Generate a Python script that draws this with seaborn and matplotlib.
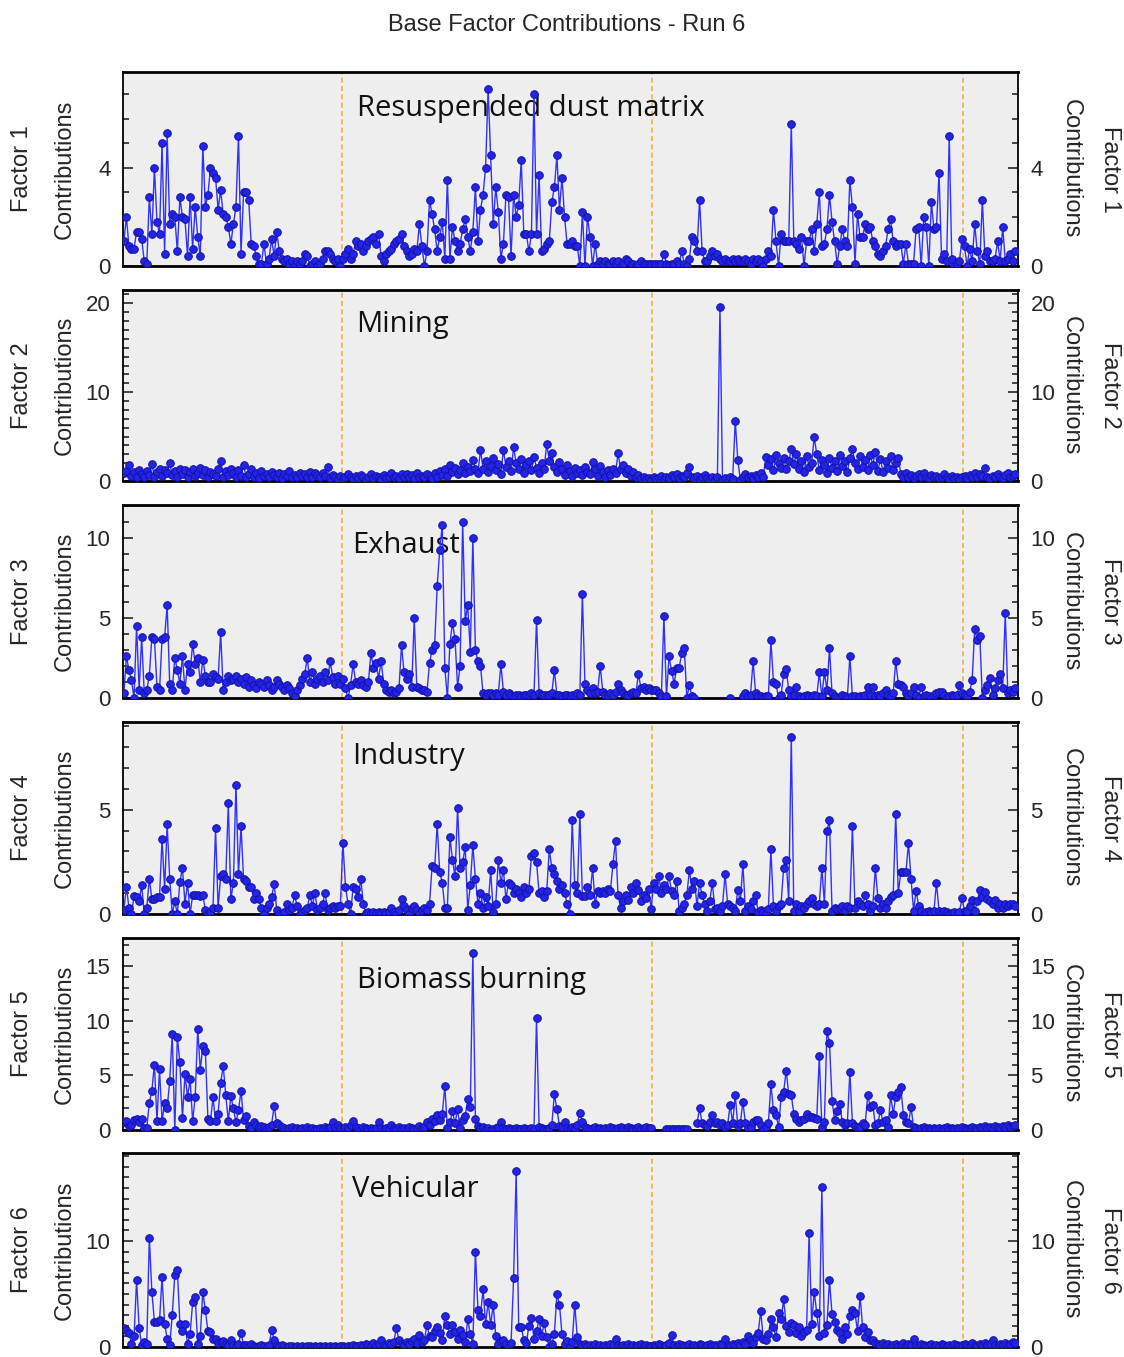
import numpy as np
import pandas as pd
import seaborn as sns
import matplotlib.pyplot as plt
from matplotlib.ticker import FixedLocator, MultipleLocator, NullLocator

nan = np.nan

# factor contributions, one sample every third day from first_day
first_day = "2014-04-19"

factor1 = [
    1.0, 2.0, 0.8, 0.7, 0.7, 1.4, 1.4, 1.1, 0.2, 0.1,
    2.8, 1.3, 4.0, 1.8, 1.3, 5.0, 0.5, 5.4, 1.7, 2.1,
    2.0, 0.6, 2.8, 2.0, 1.9, 0.4, 2.8, 0.7, 2.4, 1.2,
    0.4, 4.9, 2.4, 2.9, 4.0, 3.8, 3.6, 2.3, 3.1, 2.1,
    2.0, 1.6, 0.9, 1.7, 2.4, 5.3, 0.5, 3.0, 3.0, 2.7,
    0.9, 0.8, 0.4, 0.1, 0.1, 0.9, 0.1, 0.3, 1.1, 0.4,
    1.4, 0.6, 0.3, 0.2, 0.3, 0.1, 0.2, 0.0, 0.2, 0.1,
    0.2, 0.5, 0.4, 0.0, 0.1, 0.2, 0.0, 0.1, 0.3, 0.6,
    0.6, 0.5, 0.3, 0.2, 0.3, 0.0, 0.3, 0.5, 0.7, 0.3,
    0.5, 1.0, 0.8, 0.9, 0.6, 0.8, 1.0, 1.1, 1.2, 0.9,
    1.3, 0.4, 0.2, 0.5, 0.6, 0.7, 0.9, 1.0, 1.1, 1.3,
    0.8, 0.6, 0.4, 0.5, 0.7, 0.6, 1.7, 0.8, 0.0, 0.6,
    2.7, 2.1, 1.5, 0.6, 1.2, 1.8, 0.3, 3.5, 0.3, 1.6,
    1.0, 0.6, 0.9, 1.5, 1.9, 1.2, 0.6, 1.4, 3.2, 1.0,
    2.3, 2.9, 4.0, 7.2, 4.5, 1.7, 3.2, 2.2, 0.3, 0.9,
    2.9, 2.8, 0.4, 2.9, 2.0, 2.5, 4.3, 1.3, 1.3, 0.6,
    1.3, 7.0, 1.3, 3.7, 0.6, 0.7, 0.9, 1.0, 2.6, 3.2,
    4.5, 2.3, 3.6, 2.0, 0.9, 0.9, 1.0, 0.8, 0.8, 0.0,
    2.2, 0.0, 2.0, 1.2, 0.0, 0.9, 0.1, 0.2, 0.1, 0.2,
    0.1, 0.1, 0.2, 0.1, 0.2, 0.0, 0.1, 0.3, 0.2, 0.1,
    0.1, 0.0, 0.1, 0.2, 0.1, 0.1, 0.1, 0.1, 0.1, 0.1,
    0.1, 0.1, 0.5, 0.1, 0.05, 0.1, 0.1, 0.2, 0.1, 0.6,
    0.1, 0.0, 0.3, 1.2, 1.0, 0.6, 2.7, 0.6, 0.2, 0.2,
    0.4, 0.6, 0.4, 0.5, 0.3, 0.2, 0.3, 0.2, 0.2, 0.3,
    0.2, 0.3, 0.2, 0.2, 0.3, 0.2, 0.1, 0.3, 0.2, 0.3,
    0.2, 0.0, 0.3, 0.6, 0.4, 2.3, 1.0, 0.0, 1.3, 1.0,
    1.0, 1.0, 5.8, 1.0, 0.9, 0.7, 1.2, 0.0, 1.0, 1.0,
    1.5, 0.6, 1.7, 3.0, 0.8, 0.9, 1.5, 2.9, 1.8, 1.0,
    0.1, 0.8, 1.5, 1.0, 0.8, 3.5, 2.4, 0.1, 2.1, 1.2,
    1.2, 1.7, 1.5, 1.6, 1.0, 0.8, 0.5, 0.4, 0.6, 0.8,
    1.5, 1.9, 1.0, 0.8, 0.9, 0.9, 0.1, 0.9, 0.1, 0.1,
    0.1, 1.5, 1.6, 0.0, 2.0, 1.6, 0.0, 2.6, 1.5, 1.6,
    3.8, 0.3, 0.5, 0.2, 5.3, 0.3, 0.0, 0.1, 0.2, 1.1,
    0.8, 0.0, 0.7, 0.2, 1.7, 0.6, 0.1, 2.7, 0.4, 0.6,
    0.2, 0.2, 0.3, 1.0, 0.2, 1.6, 0.2, 0.3, 0.5, 0.2, 0.6,
]

factor2 = [
    0.9, 1.1, 1.8, 0.6, 1.0, 0.5, 1.2, 0.8, 0.4, 1.1,
    0.7, 1.9, 0.5, 1.0, 1.3, 0.6, 1.2, 0.9, 2.0, 0.7,
    1.1, 0.5, 1.4, 0.8, 1.2, 0.4, 1.0, 1.3, 0.6, 0.9,
    1.5, 0.7, 1.2, 0.5, 1.0, 0.8, 0.6, 1.3, 2.3, 0.4,
    1.1, 0.7, 1.4, 0.9, 0.5, 1.2, 0.6, 1.8, 0.4, 0.8,
    1.3, 0.5, 0.9, 0.3, 1.1, 0.6, 0.8, 0.4, 1.0, 0.7,
    0.5, 0.9, 0.3, 0.8, 0.6, 1.1, 0.4, 0.7, 0.5, 0.9,
    0.6, 0.8, 0.4, 1.0, 0.5, 0.9, 0.7, 0.4, 0.9, 0.6,
    1.6, 0.3, 0.7, 0.4, 0.2, 0.6, 0.3, 0.5, 0.8, 0.4,
    0.2, 0.6, 0.3, 0.7, 0.4, 0.2, 0.5, 0.8, 0.3, 0.6,
    0.4, 0.2, 0.7, 0.3, 0.5, 0.9, 0.4, 0.6, 0.3, 0.8,
    0.5, 0.8, 0.4, 0.7, 0.3, 0.9, 0.5, 0.6, 0.4, 0.8,
    0.6, 0.3, 0.9, 0.5, 1.1, 0.7, 1.3, 0.6, 1.8, 1.0,
    1.5, 0.8, 1.2, 2.0, 0.9, 1.6, 1.1, 2.4, 1.3, 0.9,
    3.5, 1.4, 2.2, 1.0, 1.7, 2.6, 1.2, 1.9, 0.8, 3.5,
    1.6, 2.3, 1.1, 3.8, 2.0, 1.3, 2.5, 0.9, 1.8, 2.2,
    1.2, 2.7, 1.5, 0.9, 2.0, 1.4, 4.2, 2.3, 3.1, 1.6,
    1.0, 2.1, 1.3, 0.7, 1.8, 1.1, 0.6, 1.5, 0.9, 1.2,
    0.7, 1.6, 1.0, 0.8, 2.1, 1.3, 0.6, 1.7, 1.0, 0.5,
    1.2, 0.7, 1.4, 0.9, 3.1, 1.3, 1.8, 0.9, 1.4, 0.6,
    1.0, 0.4, 0.7, 0.3, 0.5, 0.2, 0.3, 0.1, 0.4, 0.2,
    0.3, 0.6, 0.2, 0.5, 0.3, 0.7, 0.4, 0.8, 0.3, 0.6,
    0.4, 0.9, 1.6, 0.5, 0.3, 0.6, 0.2, 0.4, 0.7, 0.3,
    0.2, 0.5, 0.1, 0.4, 19.6, 0.1, 0.3, 0.1, 0.4, 0.2,
    6.8, 2.4, 0.1, 0.5, 0.8, 0.4, 0.6, 0.3, 0.7, 0.5,
    0.9, 0.4, 2.7, 1.8, 2.5, 1.2, 2.9, 2.0, 1.5, 2.6,
    1.3, 2.2, 3.6, 1.9, 3.0, 1.4, 2.3, 1.0, 2.8, 1.6,
    2.0, 5.0, 3.0, 1.2, 2.4, 1.8, 0.9, 2.6, 1.5, 2.2,
    1.1, 2.9, 1.7, 2.3, 1.0, 2.6, 3.6, 2.0, 1.4, 2.8,
    1.6, 2.4, 1.2, 2.9, 1.8, 3.3, 1.1, 2.5, 1.0, 2.2,
    1.5, 2.8, 1.2, 2.0, 2.6, 0.8, 0.5, 0.9, 0.4, 0.7,
    0.3, 0.6, 0.8, 0.4, 0.9, 0.5, 0.3, 0.7, 0.4, 0.6,
    0.3, 0.5, 0.8, 0.4, 0.2, 0.6, 0.3, 0.5, 0.2, 0.4,
    0.6, 0.3, 0.7, 0.4, 0.9, 0.5, 0.8, 0.6, 1.5, 0.4,
    0.3, 0.6, 0.4, 0.8, 0.5, 0.3, 0.7, 0.9, 0.4, 0.6, 0.8,
]

factor3 = [
    0.3, 2.6, 1.75, 1.1, 0.0, 4.5, 0.5, 3.8, 0.3, 0.5,
    1.4, 3.8, 3.7, 0.7, 0.5, 3.7, 3.8, 5.8, 0.9, 0.5,
    2.5, 1.75, 0.9, 2.6, 0.5, 2.1, 1.6, 3.4, 2.1, 2.5,
    1.0, 2.4, 1.4, 1.0, 1.0, 1.5, 1.3, 1.2, 4.1, 0.5,
    1.0, 1.4, 1.1, 1.2, 1.4, 1.0, 1.2, 0.9, 1.3, 0.7,
    1.1, 0.8, 0.6, 1.0, 0.9, 0.7, 1.1, 0.8, 0.5, 0.7,
    1.1, 0.9, 0.7, 0.5, 0.8, 0.6, 0.3, 0.1, 0.5, 0.8,
    1.2, 1.5, 2.5, 1.0, 1.6, 0.9, 1.2, 1.4, 1.0, 1.6,
    1.1, 2.3, 1.3, 0.9, 1.4, 0.9, 1.2, 0.6, 0.0, 0.8,
    2.1, 1.0, 0.9, 1.1, 0.8, 0.7, 1.0, 2.8, 1.9, 2.2,
    1.2, 2.3, 0.9, 0.5, 0.4, 0.5, 0.3, 0.4, 0.6, 3.3,
    1.6, 1.2, 1.5, 0.7, 5.0, 0.7, 0.6, 0.5, 0.5, 0.4,
    2.2, 3.0, 3.3, 7.0, 9.25, 10.8, 1.9, 0.0, 3.4, 4.7,
    3.7, 0.7, 2.0, 11.0, 4.8, 5.8, 2.9, 10.0, 3.0, 2.3,
    2.0, 0.3, 0.2, 0.3, 0.3, 0.2, 0.3, 0.2, 2.1, 0.4,
    0.2, 0.3, 0.2, 0.1, 0.2, 0.2, 0.1, 0.2, 0.2, 0.2,
    0.3, 0.2, 4.9, 0.3, 0.2, 0.2, 0.2, 0.2, 0.3, 1.75,
    0.2, 0.2, 0.1, 0.2, 0.2, 0.1, 0.2, 0.2, 0.3, 0.2,
    6.5, 0.9, 0.5, 0.3, 0.6, 0.3, 0.4, 2.0, 0.4, 0.2,
    0.2, 0.3, 0.2, 0.4, 0.9, 0.5, 0.3, 0.2, 0.2, 0.3,
    0.4, 0.3, 1.5, 0.6, 0.7, 0.5, 0.6, 0.5, 0.5, 0.5,
    0.3, 0.1, 5.1, 0.1, 2.6, 1.7, 0.9, 1.9, 1.9, 2.8,
    3.1, 0.0, 0.8, 0.1, 0.0, nan, nan, nan, nan, nan,
    nan, nan, nan, nan, nan, nan, nan, nan, 0.0, nan,
    nan, nan, nan, 0.1, 0.3, 0.1, 0.2, 2.3, 0.3, 0.1,
    0.1, 0.0, 0.1, 0.1, 3.6, 1.0, 0.9, 0.0, 0.2, 1.5,
    1.8, 0.5, 0.1, 0.2, 0.7, 0.1, 0.0, 0.1, 0.2, 0.1,
    0.1, 0.2, 0.1, 1.6, 0.1, 1.6, 0.5, 3.1, 0.3, 0.1,
    0.0, 0.0, 0.2, 0.1, 0.0, 2.6, 0.1, 0.1, 0.0, 0.1,
    0.1, 0.2, 0.7, 0.2, 0.7, 0.1, 0.2, 0.1, 0.3, 0.5,
    0.2, 0.1, 0.3, 2.3, 0.9, 0.8, 0.7, 0.3, 0.1, 0.3,
    0.7, 0.2, 0.0, 0.7, 0.1, 0.2, 0.1, 0.0, 0.2, 0.3,
    0.4, 0.4, 0.2, 0.0, 0.1, 0.2, 0.1, 0.2, 0.8, 0.3,
    0.2, 0.1, 0.4, 1.1, 4.3, 3.6, 3.9, 0.0, 0.5, 0.8,
    1.25, 0.2, 0.6, 1.1, 1.5, 0.6, 5.3, 0.3, 0.5, 0.4, 0.6,
]

factor4 = [
    0.2, 1.3, 0.3, 0.0, 0.85, 0.8, 0.6, 1.4, 0.0, 0.3,
    1.7, 0.7, 0.7, 0.8, 0.8, 3.6, 1.2, 4.3, 1.7, 0.0,
    0.6, 0.0, 1.55, 2.2, 0.5, 1.5, 0.0, 0.9, 0.9, 0.9,
    0.85, 0.9, 0.2, 0.0, 0.1, 0.3, 4.1, 0.3, 1.8, 1.9,
    1.7, 5.3, 0.7, 1.5, 6.2, 1.9, 4.2, 1.7, 1.6, 1.3,
    1.3, 0.7, 1.0, 0.7, 0.3, 0.0, 0.3, 0.5, 0.8, 1.45,
    0.2, 0.0, 0.0, 0.1, 0.5, 0.2, 0.3, 0.9, 0.4, 0.0,
    0.1, 0.2, 0.3, 0.9, 0.4, 1.0, 0.2, 0.3, 0.5, 1.0,
    0.2, 0.3, 0.4, 0.3, 0.4, 0.4, 3.4, 1.3, 0.5, 0.0,
    1.3, 1.2, 0.8, 1.7, 0.5, 0.05, 0.1, 0.05, 0.1, 0.05,
    0.1, 0.05, 0.1, 0.05, 0.1, 0.3, 0.1, 0.0, 0.2, 0.7,
    0.4, 0.2, 0.0, 0.3, 0.4, 0.2, 0.0, 0.2, 0.3, 0.2,
    0.5, 2.3, 2.2, 4.3, 2.0, 1.5, 0.3, 0.3, 3.7, 2.6,
    1.8, 5.1, 2.2, 2.5, 3.2, 0.2, 1.4, 3.3, 1.7, 0.5,
    1.0, 0.3, 0.8, 0.4, 2.1, 0.1, 0.5, 2.6, 1.5, 2.1,
    0.7, 1.5, 1.4, 1.0, 1.2, 1.0, 0.8, 1.3, 1.0, 1.2,
    2.8, 2.9, 2.5, 1.0, 1.1, 0.8, 1.1, 3.1, 2.2, 1.9,
    1.6, 1.2, 1.4, 1.0, 0.5, 0.0, 4.5, 1.4, 1.0, 4.8,
    0.85, 0.85, 1.3, 0.9, 2.2, 0.5, 1.1, 1.0, 1.1, 1.0,
    1.2, 1.1, 2.4, 3.5, 0.9, 0.3, 0.6, 0.9, 0.65, 1.3,
    1.0, 1.5, 1.15, 0.6, 0.9, 0.75, 1.2, 0.25, 1.5, 1.2,
    1.8, 1.0, 1.4, 1.2, 1.8, 1.1, 0.9, 1.6, 0.15, 0.3,
    0.5, 0.9, 2.1, 1.2, 1.6, 0.4, 1.5, 0.9, 0.5, 0.15,
    0.6, 1.5, 0.25, 0.3, 0.15, 0.4, 1.9, 0.5, 0.4, 0.3,
    0.15, 1.15, 0.6, 2.4, 0.15, 0.4, 0.25, 0.6, 0.9, 0.1,
    0.2, 0.1, 0.0, 0.25, 3.1, 0.4, 0.15, 0.4, 0.5, 2.2,
    2.6, 0.6, 8.5, 0.15, 0.5, 0.15, 0.4, 0.3, 0.5, 0.6,
    0.75, 0.5, 0.4, 0.5, 2.2, 0.5, 4.0, 4.5, 0.15, 0.3,
    0.25, 0.3, 0.4, 0.2, 0.4, 0.3, 4.2, 0.3, 0.6, 0.5,
    0.4, 0.9, 0.5, 0.15, 0.4, 2.2, 0.75, 0.3, 0.5, 0.3,
    0.6, 0.8, 0.9, 4.8, 1.0, 2.0, 2.0, 2.0, 3.4, 1.7,
    0.15, 1.1, 0.4, 0.15, 0.0, 0.1, 0.15, 0.1, 0.15, 1.5,
    0.15, 0.1, 0.15, 0.1, 0.0, 0.05, 0.1, 0.0, 0.1, 0.75,
    0.15, 0.15, 0.4, 0.65, 0.15, 0.6, 1.15, 0.8, 1.05, 0.7,
    0.6, 0.5, 0.65, 0.3, 0.5, 0.3, 0.5, 0.4, 0.5, 0.5, 0.4,
]

factor5 = [
    0.7, 0.8, 0.4, 0.5, 0.9, 1.0, 0.7, 1.0, 0.2, 0.2,
    2.5, 3.6, 6.0, 0.8, 5.6, 0.8, 2.5, 2.0, 4.5, 8.8,
    0.0, 8.5, 6.2, 1.1, 5.1, 3.0, 4.7, 0.8, 3.0, 9.3,
    5.5, 7.7, 7.2, 1.0, 0.8, 3.0, 0.8, 1.5, 4.3, 5.9,
    3.2, 0.8, 3.1, 2.0, 0.7, 1.8, 3.6, 0.9, 1.3, 0.4,
    0.2, 0.7, 0.5, 0.3, 0.4, 0.3, 0.2, 0.3, 0.5, 2.2,
    0.6, 0.5, 0.3, 0.2, 0.1, 0.2, 0.3, 0.1, 0.2, 0.1,
    0.2, 0.1, 0.3, 0.1, 0.2, 0.1, 0.1, 0.2, 0.1, 0.3,
    0.2, 0.3, 0.7, 0.3, 0.5, 0.2, 0.1, 0.3, 0.2, 0.5,
    0.8, 0.3, 0.2, 0.1, 0.3, 0.2, 0.1, 0.2, 0.1, 0.2,
    0.7, 0.2, 0.1, 0.2, 0.1, 0.5, 0.2, 0.1, 0.3, 0.1,
    0.2, 0.1, 0.3, 0.2, 0.1, 0.2, 0.4, 0.2, 0.3, 0.7,
    0.5, 1.0, 0.8, 1.4, 0.9, 1.5, 4.0, 0.2, 0.7, 1.7,
    0.6, 1.9, 0.2, 0.9, 1.3, 2.8, 2.1, 16.2, 1.0, 0.4,
    0.2, 0.3, 0.1, 0.2, 0.0, 0.1, 0.2, 0.3, 0.7, 0.2,
    0.1, 0.2, 0.1, 0.1, 0.2, 0.1, 0.1, 0.2, 0.1, 0.1,
    0.2, 0.1, 10.3, 0.3, 0.2, 0.1, 0.1, 0.2, 0.5, 3.3,
    1.9, 0.4, 0.3, 0.7, 0.2, 0.1, 0.3, 0.2, 0.5, 1.6,
    0.7, 0.3, 0.2, 0.1, 0.2, 0.3, 0.1, 0.2, 0.1, 0.2,
    0.1, 0.3, 0.2, 0.1, 0.2, 0.3, 0.2, 0.1, 0.3, 0.2,
    0.1, 0.2, 0.3, 0.1, 0.2, 0.3, 0.2, 0.2, nan, nan,
    nan, nan, nan, 0.05, 0.1, 0.05, 0.1, 0.05, 0.1, 0.05,
    0.1, 0.05, nan, nan, nan, 0.6, 2.0, 0.6, 0.5, 0.4,
    0.75, 1.35, 0.6, 0.75, 0.5, 0.6, 0.3, 0.45, 2.3, 0.6,
    3.2, 0.4, 0.6, 2.6, 0.6, 0.15, 0.3, 0.75, 0.9, 0.9,
    0.5, 0.0, 0.3, 0.6, 4.2, 1.8, 1.35, 0.3, 3.0, 3.5,
    5.45, 3.3, 3.2, 1.5, 1.05, 0.75, 0.9, 1.05, 1.5, 1.2,
    1.2, 1.1, 1.05, 6.8, 0.3, 0.75, 9.1, 8.0, 2.7, 0.9,
    1.7, 2.4, 0.75, 0.5, 0.6, 5.3, 0.6, 0.4, 0.3, 0.3,
    0.6, 0.5, 3.2, 2.1, 2.3, 0.45, 0.6, 1.8, 0.75, 0.9,
    0.3, 3.2, 1.5, 3.0, 3.5, 3.9, 1.4, 0.75, 0.6, 2.1,
    0.3, 0.2, 0.1, 0.2, 0.3, 0.1, 0.2, 0.1, 0.2, 0.1,
    0.2, 0.1, 0.2, 0.3, 0.1, 0.2, 0.1, 0.2, 0.1, 0.3,
    0.2, 0.1, 0.2, 0.3, 0.2, 0.1, 0.3, 0.2, 0.4, 0.2,
    0.3, 0.2, 0.4, 0.3, 0.2, 0.4, 0.3, 0.5, 0.3, 0.4, 0.5,
]

factor6 = [
    1.8, 1.6, 1.3, 0.3, 1.0, 6.3, 1.8, 0.2, 0.5, 0.3,
    10.3, 5.2, 2.4, 2.4, 2.5, 6.6, 2.2, 0.8, 0.2, 3.0,
    6.8, 7.3, 2.2, 1.5, 2.2, 0.3, 1.2, 4.2, 4.7, 0.3,
    1.0, 5.2, 3.5, 1.5, 1.4, 0.8, 0.8, 0.4, 0.5, 0.6,
    0.3, 0.2, 0.65, 0.2, 0.0, 0.3, 1.3, 0.2, 0.2, 0.1,
    0.3, 0.1, 0.0, 0.1, 0.2, 0.1, 0.0, 0.2, 1.6, 0.65,
    0.2, 0.1, 0.2, 0.1, 0.0, 0.1, 0.1, 0.0, 0.1, 0.0,
    0.1, 0.0, 0.1, 0.1, 0.0, 0.1, 0.0, 0.1, 0.0, 0.1,
    0.0, 0.1, 0.0, 0.1, 0.0, 0.1, 0.1, 0.0, 0.1, 0.1,
    0.2, 0.1, 0.1, 0.2, 0.1, 0.3, 0.2, 0.1, 0.4, 0.2,
    0.3, 0.65, 0.2, 0.1, 0.4, 0.3, 0.5, 1.8, 0.65, 0.3,
    0.2, 0.5, 0.3, 0.6, 0.8, 0.4, 1.1, 0.5, 0.7, 2.1,
    1.0, 0.9, 1.5, 1.9, 1.3, 0.7, 2.9, 2.1, 1.2, 2.1,
    1.45, 0.8, 1.6, 1.1, 0.5, 2.6, 1.2, 0.3, 9.0, 3.5,
    2.9, 5.5, 2.2, 4.2, 2.1, 4.0, 1.0, 0.3, 0.6, 0.65,
    0.3, 0.0, 0.4, 6.5, 16.6, 1.9, 1.9, 0.65, 0.4, 2.0,
    2.7, 0.8, 1.5, 2.6, 1.0, 2.3, 0.9, 0.0, 0.3, 1.2,
    5.0, 4.0, 1.2, 0.3, 0.6, 0.0, 0.5, 4.0, 0.9, 0.3,
    0.2, 0.3, 0.1, 0.2, 0.1, 0.3, 0.1, 0.2, 0.1, 0.2,
    0.1, 0.3, 0.2, 0.8, 0.2, 0.1, 0.2, 0.1, 0.3, 0.1,
    0.2, 0.1, 0.2, 0.3, 0.1, 0.2, 0.1, 0.1, 0.2, 0.1,
    0.3, 0.2, 0.1, 0.2, 0.4, 1.1, 0.2, 0.1, 0.3, 0.2,
    0.1, 0.2, 0.3, 0.1, 0.2, 0.1, 0.3, 0.2, 0.1, 0.2,
    0.3, 0.1, 0.2, 0.1, 0.3, 0.2, 0.8, 0.2, 0.1, 0.3,
    0.2, 0.4, 0.2, 0.5, 0.3, 1.0, 0.65, 0.4, 0.9, 1.3,
    3.4, 0.8, 0.65, 1.2, 2.6, 1.9, 0.9, 3.2, 2.6, 4.5,
    2.0, 1.45, 2.3, 2.1, 1.3, 1.9, 1.0, 1.45, 1.6, 10.8,
    2.2, 5.2, 3.2, 1.0, 15.1, 1.3, 2.1, 6.3, 3.1, 2.4,
    1.6, 1.3, 0.8, 1.9, 1.2, 2.9, 3.5, 3.2, 1.5, 4.8,
    1.9, 0.9, 1.45, 0.7, 0.65, 0.4, 0.3, 0.2, 0.4, 0.2,
    0.3, 0.1, 0.2, 0.3, 0.1, 0.2, 0.4, 0.1, 0.3, 0.2,
    0.8, 0.2, 0.1, 0.3, 0.2, 0.1, 0.2, 0.3, 0.1, 0.2,
    0.1, 0.3, 0.2, 0.1, 0.2, 0.1, 0.3, 0.2, 0.1, 0.2,
    0.3, 0.2, 0.1, 0.4, 0.2, 0.1, 0.3, 0.2, 0.4, 0.2,
    0.3, 0.65, 0.2, 0.1, 0.3, 0.2, 0.4, 0.2, 0.3, 0.5, 0.4,
]

sources = ["Resuspended dust matrix", "Mining", "Exhaust", "Industry",
           "Biomass burning", "Vehicular"]
factor_labels = ["Factor 1", "Factor 2", "Factor 3", "Factor 4", "Factor 5", "Factor 6"]
major_ticks = [[0, 4], [0, 10, 20], [0, 5, 10], [0, 5], [0, 5, 10, 15], [0, 10]]
year_starts = ["2015-01-01", "2016-01-01", "2017-01-01"]

series = [factor1, factor2, factor3, factor4, factor5, factor6]

# long table; gaps (nan) split the line into separate units
frames = []
for lab, vals in zip(factor_labels, series):
    v = pd.Series(vals, dtype=float)
    d = pd.DataFrame({"date": pd.date_range(first_day, periods=len(v), freq="3D"),
                      "value": v, "factor": lab})
    d["seg"] = v.isna().cumsum()
    frames.append(d.dropna())
df = pd.concat(frames, ignore_index=True)

sns.set_style("ticks")
plt.rcParams["font.family"] = ["Liberation Sans", "DejaVu Sans"]

W, H = 1124, 1357
fig = plt.figure(figsize=(W / 100, H / 100), dpi=100)

panels_px = [(72, 266), (290, 481), (505, 698), (722, 914), (938, 1130), (1153, 1347)]
y_top = [7.9, 21.5, 12.06, 9.2, 17.6, 18.3]
text_pos = [(0.261, 0.814), (0.261, 0.817), (0.256, 0.79),
            (0.256, 0.818), (0.261, 0.78), (0.256, 0.81)]
x0 = pd.Timestamp(first_day) - pd.Timedelta(days=1)
x1 = pd.Timestamp(first_day) + pd.Timedelta(days=1053)

for k, (top, bot) in enumerate(panels_px):
    ax = fig.add_axes([123 / W, 1 - bot / H, 895 / W, (bot - top) / H])
    ax.set_facecolor("#eeeeee")
    for ys in year_starts:
        ax.axvline(pd.Timestamp(ys), color="#f3ad45", lw=1.2, ls=(0, (3, 2)), zorder=1)
    tx, ty = text_pos[k]
    ax.text(tx, ty, sources[k], transform=ax.transAxes, fontsize=21,
            family=["Open Sans", "DejaVu Sans"], ha="left", va="center",
            color="#111111", zorder=2)

    sub = df[df["factor"] == factor_labels[k]]
    sns.lineplot(data=sub, x="date", y="value", units="seg", estimator=None,
                 ax=ax, color="#3030ff", linewidth=1.0, marker="o", markersize=5.5,
                 markerfacecolor="#2424e6", markeredgecolor="#1212a8",
                 markeredgewidth=0.7, zorder=3, legend=False)

    ax.set_xlim(x0, x1)
    ax.set_ylim(0, y_top[k])
    ax.yaxis.set_major_locator(FixedLocator(major_ticks[k]))
    ax.yaxis.set_minor_locator(MultipleLocator(1))
    ax.set_xticks([])
    ax.xaxis.set_minor_locator(NullLocator())
    ax.tick_params(axis="y", which="both", direction="in", left=True, right=True,
                   labelleft=True, labelright=True, labelsize=16, width=1.2, pad=9)
    ax.tick_params(axis="y", which="major", length=7)
    ax.tick_params(axis="y", which="minor", length=4)
    ax.set_xlabel("")
    ax.set_ylabel("")
    for s in ax.spines.values():
        s.set_color("black")
        s.set_linewidth(1.3)
    ax.spines["top"].set_linewidth(2)
    ax.spines["bottom"].set_linewidth(2)

    yc = 1 - (top + bot) / 2 / H
    fig.text(22 / W, yc, factor_labels[k], rotation=90, ha="center", va="center", fontsize=17)
    fig.text(65 / W, yc, "Contributions", rotation=90, ha="center", va="center", fontsize=17)
    fig.text(1071 / W, yc, "Contributions", rotation=-90, ha="center", va="center", fontsize=17)
    fig.text(1110 / W, yc, factor_labels[k], rotation=-90, ha="center", va="center", fontsize=17)

fig.text(0.504, 1 - 25 / H, "Base Factor Contributions - Run 6", ha="center",
         va="center", fontsize=17)

fig.savefig("out.png", dpi=100)
